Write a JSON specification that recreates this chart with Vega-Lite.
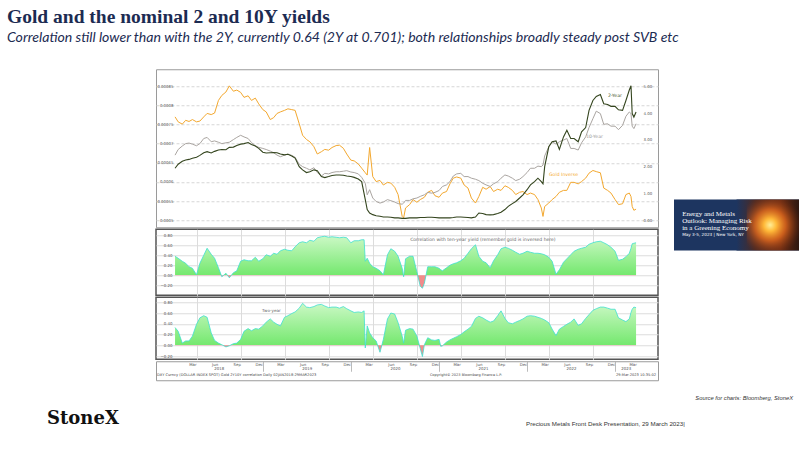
{
  "$schema": "https://vega.github.io/schema/vega-lite/v6.json",
  "padding": {"left": 0, "top": 7, "right": 0, "bottom": 0},
  "background": "white",
  "config": {
    "view": {"stroke": null},
    "mark": {"invalid": "filter"},
    "axis": {"labelFont": "DejaVu Sans", "labelFontSize": 3.9, "labelColor": "#555", "title": null, "labelOverlap": false},
    "text": {"font": "DejaVu Sans"}
  },
  "title": {
    "text": "Gold and the nominal 2 and 10Y yields",
    "subtitle": "Correlation still lower than with the 2Y, currently 0.64 (2Y at 0.701); both relationships broadly steady post SVB etc",
    "anchor": "start",
    "dx": 7,
    "font": "Liberation Serif",
    "fontSize": 19.5,
    "fontWeight": "bold",
    "color": "#1c2b52",
    "subtitleFont": "Lato",
    "subtitleFontStyle": "italic",
    "subtitleFontSize": 14.1,
    "subtitleColor": "#1c2b52",
    "subtitlePadding": 3,
    "offset": 23
  },
  "datasets": {
    "series": [
      {"d": "2018-01-02", "g": 0.000770, "y2": 1.94, "y10": 2.43, "c10": 0.38, "c2": 0.33},
      {"d": "2018-01-15", "g": 0.000757, "y2": 2.09, "y10": 2.64, "c10": 0.34, "c2": 0.26},
      {"d": "2018-02-01", "g": 0.000751, "y2": 2.20, "y10": 2.77, "c10": 0.28, "c2": 0.04},
      {"d": "2018-02-15", "g": 0.000761, "y2": 2.25, "y10": 2.86, "c10": 0.24, "c2": 0.08},
      {"d": "2018-03-01", "g": 0.000758, "y2": 2.27, "y10": 2.88, "c10": 0.17, "c2": 0.08},
      {"d": "2018-03-15", "g": 0.000763, "y2": 2.31, "y10": 2.84, "c10": 0.14, "c2": 0.17},
      {"d": "2018-04-01", "g": 0.000757, "y2": 2.35, "y10": 2.78, "c10": 0.01, "c2": 0.39},
      {"d": "2018-04-15", "g": 0.000759, "y2": 2.42, "y10": 2.86, "c10": 0.24, "c2": 0.51},
      {"d": "2018-05-01", "g": 0.000770, "y2": 2.52, "y10": 3.05, "c10": 0.40, "c2": 0.55},
      {"d": "2018-05-15", "g": 0.000779, "y2": 2.56, "y10": 3.09, "c10": 0.54, "c2": 0.52},
      {"d": "2018-06-01", "g": 0.000776, "y2": 2.51, "y10": 2.93, "c10": 0.42, "c2": 0.23},
      {"d": "2018-06-15", "g": 0.000780, "y2": 2.57, "y10": 2.96, "c10": 0.34, "c2": 0.09},
      {"d": "2018-07-01", "g": 0.000813, "y2": 2.62, "y10": 2.91, "c10": 0.15, "c2": 0.04},
      {"d": "2018-07-15", "g": 0.000826, "y2": 2.64, "y10": 2.86, "c10": -0.03, "c2": 0.01},
      {"d": "2018-08-01", "g": 0.000835, "y2": 2.63, "y10": 2.89, "c10": 0.04, "c2": -0.03},
      {"d": "2018-08-15", "g": 0.000851, "y2": 2.72, "y10": 2.91, "c10": -0.05, "c2": -0.01},
      {"d": "2018-09-01", "g": 0.000837, "y2": 2.73, "y10": 3.01, "c10": 0.05, "c2": 0.03},
      {"d": "2018-09-15", "g": 0.000840, "y2": 2.79, "y10": 3.09, "c10": 0.09, "c2": 0.04},
      {"d": "2018-10-01", "g": 0.000834, "y2": 2.84, "y10": 3.17, "c10": 0.28, "c2": 0.11},
      {"d": "2018-10-15", "g": 0.000821, "y2": 2.86, "y10": 3.11, "c10": 0.31, "c2": 0.26},
      {"d": "2018-11-01", "g": 0.000825, "y2": 2.90, "y10": 3.05, "c10": 0.29, "c2": 0.31},
      {"d": "2018-11-15", "g": 0.000813, "y2": 2.83, "y10": 2.90, "c10": 0.29, "c2": 0.27},
      {"d": "2018-12-01", "g": 0.000819, "y2": 2.77, "y10": 2.78, "c10": 0.36, "c2": 0.31},
      {"d": "2018-12-15", "g": 0.000804, "y2": 2.68, "y10": 2.72, "c10": 0.28, "c2": 0.30},
      {"d": "2019-01-01", "g": 0.000789, "y2": 2.54, "y10": 2.68, "c10": 0.33, "c2": 0.36},
      {"d": "2019-01-15", "g": 0.000783, "y2": 2.51, "y10": 2.64, "c10": 0.41, "c2": 0.43},
      {"d": "2019-02-01", "g": 0.000763, "y2": 2.52, "y10": 2.58, "c10": 0.38, "c2": 0.49},
      {"d": "2019-02-15", "g": 0.000768, "y2": 2.53, "y10": 2.52, "c10": 0.44, "c2": 0.43},
      {"d": "2019-03-01", "g": 0.000779, "y2": 2.52, "y10": 2.43, "c10": 0.42, "c2": 0.39},
      {"d": "2019-03-15", "g": 0.000783, "y2": 2.47, "y10": 2.37, "c10": 0.49, "c2": 0.36},
      {"d": "2019-04-01", "g": 0.000787, "y2": 2.44, "y10": 2.43, "c10": 0.52, "c2": 0.52},
      {"d": "2019-04-15", "g": 0.000791, "y2": 2.46, "y10": 2.47, "c10": 0.50, "c2": 0.55},
      {"d": "2019-05-01", "g": 0.000789, "y2": 2.40, "y10": 2.42, "c10": 0.49, "c2": 0.59},
      {"d": "2019-05-15", "g": 0.000787, "y2": 2.32, "y10": 2.35, "c10": 0.57, "c2": 0.62},
      {"d": "2019-06-01", "g": 0.000752, "y2": 2.00, "y10": 2.09, "c10": 0.65, "c2": 0.69},
      {"d": "2019-06-15", "g": 0.000722, "y2": 1.88, "y10": 2.00, "c10": 0.67, "c2": 0.78},
      {"d": "2019-07-01", "g": 0.000711, "y2": 1.78, "y10": 1.94, "c10": 0.65, "c2": 0.71},
      {"d": "2019-07-15", "g": 0.000705, "y2": 1.81, "y10": 1.88, "c10": 0.70, "c2": 0.70},
      {"d": "2019-08-01", "g": 0.000692, "y2": 1.88, "y10": 1.96, "c10": 0.68, "c2": 0.72},
      {"d": "2019-08-15", "g": 0.000673, "y2": 1.85, "y10": 1.78, "c10": 0.75, "c2": 0.75},
      {"d": "2019-09-01", "g": 0.000679, "y2": 1.63, "y10": 1.65, "c10": 0.77, "c2": 0.76},
      {"d": "2019-09-15", "g": 0.000685, "y2": 1.59, "y10": 1.75, "c10": 0.78, "c2": 0.73},
      {"d": "2019-10-01", "g": 0.000683, "y2": 1.63, "y10": 1.73, "c10": 0.76, "c2": 0.70},
      {"d": "2019-10-15", "g": 0.000690, "y2": 1.67, "y10": 1.78, "c10": 0.77, "c2": 0.71},
      {"d": "2019-11-01", "g": 0.000695, "y2": 1.69, "y10": 1.81, "c10": 0.76, "c2": 0.71},
      {"d": "2019-11-15", "g": 0.000696, "y2": 1.69, "y10": 1.81, "c10": 0.75, "c2": 0.69},
      {"d": "2019-12-01", "g": 0.000688, "y2": 1.68, "y10": 1.83, "c10": 0.76, "c2": 0.72},
      {"d": "2019-12-15", "g": 0.000673, "y2": 1.65, "y10": 1.85, "c10": 0.75, "c2": 0.68},
      {"d": "2020-01-01", "g": 0.000657, "y2": 1.63, "y10": 1.80, "c10": 0.65, "c2": 0.64},
      {"d": "2020-01-15", "g": 0.000655, "y2": 1.60, "y10": 1.78, "c10": 0.69, "c2": 0.61},
      {"d": "2020-02-01", "g": 0.000647, "y2": 1.54, "y10": 1.73, "c10": 0.69, "c2": 0.62},
      {"d": "2020-02-15", "g": 0.000636, "y2": 1.44, "y10": 1.60, "c10": 0.71, "c2": 0.61},
      {"d": "2020-02-25", "c10": 0.71, "c2": 0.64},
      {"d": "2020-03-01", "g": 0.000624, "y2": 0.77, "y10": 1.38, "c10": 0.28, "c2": -0.05},
      {"d": "2020-03-09", "g": 0.000618, "y2": 0.40, "y10": 0.95, "c10": 0.34, "c2": 0.36},
      {"d": "2020-03-19", "g": 0.000690, "y2": 0.27, "y10": 1.14, "c10": 0.24, "c2": 0.23},
      {"d": "2020-04-01", "g": 0.000614, "y2": 0.21, "y10": 0.83, "c10": 0.17, "c2": 0.14},
      {"d": "2020-04-15", "g": 0.000601, "y2": 0.17, "y10": 0.70, "c10": 0.14, "c2": 0.08},
      {"d": "2020-05-01", "g": 0.000604, "y2": 0.15, "y10": 0.64, "c10": 0.09, "c2": -0.13},
      {"d": "2020-05-15", "g": 0.000592, "y2": 0.12, "y10": 0.68, "c10": 0.01, "c2": 0.11},
      {"d": "2020-06-01", "g": 0.000599, "y2": 0.12, "y10": 0.77, "c10": 0.41, "c2": 0.49},
      {"d": "2020-06-15", "g": 0.000597, "y2": 0.11, "y10": 0.73, "c10": 0.53, "c2": 0.60},
      {"d": "2020-07-01", "g": 0.000586, "y2": 0.09, "y10": 0.68, "c10": 0.48, "c2": 0.58},
      {"d": "2020-07-15", "g": 0.000567, "y2": 0.09, "y10": 0.62, "c10": 0.38, "c2": 0.42},
      {"d": "2020-08-01", "g": 0.000510, "y2": 0.07, "y10": 0.60, "c10": 0.14, "c2": 0.17},
      {"d": "2020-08-07", "g": 0.000506, "y2": 0.07, "y10": 0.64, "c10": -0.03, "c2": 0.04},
      {"d": "2020-08-15", "g": 0.000532, "y2": 0.07, "y10": 0.74, "c10": 0.33, "c2": 0.28},
      {"d": "2020-09-01", "g": 0.000541, "y2": 0.09, "y10": 0.74, "c10": 0.38, "c2": 0.31},
      {"d": "2020-09-15", "g": 0.000554, "y2": 0.09, "y10": 0.80, "c10": 0.38, "c2": 0.30},
      {"d": "2020-10-01", "g": 0.000547, "y2": 0.09, "y10": 0.83, "c10": 0.07, "c2": 0.17},
      {"d": "2020-10-15", "g": 0.000554, "y2": 0.10, "y10": 0.89, "c10": -0.22, "c2": -0.06},
      {"d": "2020-10-24", "c10": -0.26, "c2": -0.21},
      {"d": "2020-11-01", "g": 0.000560, "y2": 0.10, "y10": 0.95, "c10": -0.16, "c2": 0.01},
      {"d": "2020-11-15", "g": 0.000573, "y2": 0.11, "y10": 1.04, "c10": 0.17, "c2": 0.14},
      {"d": "2020-12-01", "g": 0.000578, "y2": 0.11, "y10": 1.01, "c10": 0.17, "c2": 0.10},
      {"d": "2020-12-15", "g": 0.000564, "y2": 0.10, "y10": 1.04, "c10": 0.17, "c2": 0.09},
      {"d": "2021-01-01", "g": 0.000560, "y2": 0.09, "y10": 1.11, "c10": 0.14, "c2": 0.11},
      {"d": "2021-01-08", "c10": 0.11, "c2": -0.02},
      {"d": "2021-01-15", "g": 0.000571, "y2": 0.09, "y10": 1.26, "c10": 0.09, "c2": -0.01},
      {"d": "2021-02-01", "g": 0.000575, "y2": 0.09, "y10": 1.32, "c10": 0.15, "c2": 0.06},
      {"d": "2021-02-15", "g": 0.000595, "y2": 0.09, "y10": 1.44, "c10": 0.20, "c2": 0.10},
      {"d": "2021-03-01", "g": 0.000610, "y2": 0.10, "y10": 1.65, "c10": 0.23, "c2": 0.13},
      {"d": "2021-03-15", "g": 0.000613, "y2": 0.12, "y10": 1.73, "c10": 0.25, "c2": 0.16},
      {"d": "2021-04-01", "g": 0.000610, "y2": 0.12, "y10": 1.75, "c10": 0.29, "c2": 0.20},
      {"d": "2021-04-15", "g": 0.000592, "y2": 0.11, "y10": 1.63, "c10": 0.34, "c2": 0.25},
      {"d": "2021-05-01", "g": 0.000584, "y2": 0.10, "y10": 1.63, "c10": 0.44, "c2": 0.30},
      {"d": "2021-05-15", "g": 0.000558, "y2": 0.09, "y10": 1.57, "c10": 0.53, "c2": 0.35},
      {"d": "2021-06-01", "g": 0.000545, "y2": 0.12, "y10": 1.53, "c10": 0.61, "c2": 0.50},
      {"d": "2021-06-15", "g": 0.000562, "y2": 0.27, "y10": 1.48, "c10": 0.38, "c2": 0.54},
      {"d": "2021-07-01", "g": 0.000586, "y2": 0.25, "y10": 1.38, "c10": 0.28, "c2": 0.51},
      {"d": "2021-07-15", "g": 0.000581, "y2": 0.21, "y10": 1.32, "c10": 0.25, "c2": 0.47},
      {"d": "2021-08-01", "g": 0.000588, "y2": 0.20, "y10": 1.26, "c10": 0.15, "c2": 0.43},
      {"d": "2021-08-15", "g": 0.000575, "y2": 0.21, "y10": 1.36, "c10": 0.29, "c2": 0.45},
      {"d": "2021-09-01", "g": 0.000581, "y2": 0.25, "y10": 1.44, "c10": 0.41, "c2": 0.55},
      {"d": "2021-09-15", "g": 0.000578, "y2": 0.30, "y10": 1.57, "c10": 0.53, "c2": 0.64},
      {"d": "2021-10-01", "g": 0.000590, "y2": 0.40, "y10": 1.69, "c10": 0.56, "c2": 0.50},
      {"d": "2021-10-15", "g": 0.000586, "y2": 0.52, "y10": 1.65, "c10": 0.54, "c2": 0.42},
      {"d": "2021-11-01", "g": 0.000578, "y2": 0.62, "y10": 1.57, "c10": 0.50, "c2": 0.40},
      {"d": "2021-11-15", "g": 0.000567, "y2": 0.70, "y10": 1.48, "c10": 0.46, "c2": 0.43},
      {"d": "2021-12-01", "g": 0.000573, "y2": 0.83, "y10": 1.53, "c10": 0.42, "c2": 0.46},
      {"d": "2021-12-15", "g": 0.000575, "y2": 0.95, "y10": 1.63, "c10": 0.44, "c2": 0.49},
      {"d": "2022-01-01", "g": 0.000567, "y2": 1.14, "y10": 1.78, "c10": 0.48, "c2": 0.54},
      {"d": "2022-01-15", "g": 0.000571, "y2": 1.32, "y10": 1.94, "c10": 0.46, "c2": 0.55},
      {"d": "2022-02-01", "g": 0.000567, "y2": 1.44, "y10": 1.94, "c10": 0.44, "c2": 0.54},
      {"d": "2022-02-15", "g": 0.000554, "y2": 1.57, "y10": 2.02, "c10": 0.44, "c2": 0.52},
      {"d": "2022-03-01", "g": 0.000532, "y2": 1.44, "y10": 2.00, "c10": 0.43, "c2": 0.50},
      {"d": "2022-03-08", "g": 0.000510, "y2": 1.36, "y10": 2.06},
      {"d": "2022-03-15", "g": 0.000536, "y2": 2.00, "y10": 2.40, "c10": 0.41, "c2": 0.47},
      {"d": "2022-04-01", "g": 0.000545, "y2": 2.74, "y10": 2.74, "c10": 0.36, "c2": 0.42},
      {"d": "2022-04-15", "g": 0.000554, "y2": 2.93, "y10": 2.93, "c10": 0.28, "c2": 0.30},
      {"d": "2022-05-01", "g": 0.000562, "y2": 2.96, "y10": 2.84, "c10": 0.02, "c2": 0.18},
      {"d": "2022-05-15", "g": 0.000573, "y2": 2.64, "y10": 2.93, "c10": 0.11, "c2": 0.30},
      {"d": "2022-06-01", "g": 0.000578, "y2": 3.11, "y10": 2.99, "c10": 0.26, "c2": 0.35},
      {"d": "2022-06-15", "g": 0.000578, "y2": 3.36, "y10": 3.05, "c10": 0.33, "c2": 0.39},
      {"d": "2022-07-01", "g": 0.000599, "y2": 3.05, "y10": 2.68, "c10": 0.41, "c2": 0.43},
      {"d": "2022-07-15", "g": 0.000599, "y2": 3.05, "y10": 2.68, "c10": 0.48, "c2": 0.49},
      {"d": "2022-08-01", "g": 0.000595, "y2": 2.93, "y10": 2.62, "c10": 0.52, "c2": 0.37},
      {"d": "2022-08-15", "g": 0.000601, "y2": 3.30, "y10": 2.89, "c10": 0.54, "c2": 0.40},
      {"d": "2022-09-01", "g": 0.000610, "y2": 3.46, "y10": 3.11, "c10": 0.56, "c2": 0.50},
      {"d": "2022-09-15", "g": 0.000623, "y2": 4.10, "y10": 3.46, "c10": 0.62, "c2": 0.57},
      {"d": "2022-10-01", "g": 0.000630, "y2": 4.47, "y10": 3.79, "c10": 0.65, "c2": 0.65},
      {"d": "2022-10-15", "g": 0.000627, "y2": 4.62, "y10": 4.07, "c10": 0.67, "c2": 0.68},
      {"d": "2022-11-01", "g": 0.000624, "y2": 4.69, "y10": 3.98, "c10": 0.68, "c2": 0.71},
      {"d": "2022-11-15", "g": 0.000584, "y2": 4.35, "y10": 3.58, "c10": 0.65, "c2": 0.71},
      {"d": "2022-12-01", "g": 0.000578, "y2": 4.32, "y10": 3.60, "c10": 0.61, "c2": 0.69},
      {"d": "2022-12-15", "g": 0.000571, "y2": 4.25, "y10": 3.51, "c10": 0.56, "c2": 0.67},
      {"d": "2023-01-01", "g": 0.000554, "y2": 4.25, "y10": 3.51, "c10": 0.48, "c2": 0.67},
      {"d": "2023-01-15", "g": 0.000541, "y2": 4.12, "y10": 3.38, "c10": 0.30, "c2": 0.51},
      {"d": "2023-02-01", "g": 0.000543, "y2": 4.10, "y10": 3.54, "c10": 0.32, "c2": 0.47},
      {"d": "2023-02-15", "g": 0.000567, "y2": 4.47, "y10": 3.88, "c10": 0.37, "c2": 0.44},
      {"d": "2023-03-01", "g": 0.000571, "y2": 4.86, "y10": 4.04, "c10": 0.44, "c2": 0.49},
      {"d": "2023-03-08", "g": 0.000562, "y2": 5.02, "y10": 3.98, "c10": 0.54, "c2": 0.61},
      {"d": "2023-03-13", "g": 0.000536, "y2": 3.98, "y10": 3.51, "c10": 0.63, "c2": 0.67},
      {"d": "2023-03-20", "g": 0.000526, "y2": 3.85, "y10": 3.42, "c10": 0.64, "c2": 0.71},
      {"d": "2023-03-29", "g": 0.000529, "y2": 4.04, "y10": 3.60, "c10": 0.65, "c2": 0.70}
    ]
  },
  "spacing": 0,
  "vconcat": [
    {
      "spacing": 15,
      "center": true,
      "hconcat": [
        {
          "width": 140,
          "height": 10,
          "data": {"values": [{}]},
          "mark": {"type": "text", "text": ""}
        },
        {
          "spacing": 0,
          "vconcat": [
            {
              "width": 502,
              "height": 158,
              "view": {"stroke": "#9a9a9a", "strokeWidth": 1},
              "data": {"name": "series"},
              "layer": [
                {
                  "mark": {"type": "line", "color": "#f3a82f", "strokeWidth": 1},
                  "encoding": {
                    "x": {
                      "field": "d",
                      "type": "temporal",
                      "scale": {"domain": [{"year": 2017, "month": 10, "date": 15}, {"year": 2023, "month": 6, "date": 28}], "nice": false},
                      "axis": null
                    },
                    "y": {
                      "field": "g",
                      "type": "quantitative",
                      "scale": {"domain": [0.0004817, 0.0008944], "zero": false, "nice": false},
                      "axis": {
                        "orient": "left",
                        "offset": -19,
                        "values": [0.0005, 0.00055, 0.0006, 0.00065, 0.0007, 0.00075, 0.0008, 0.00085],
                        "format": "~g",
                        "grid": true,
                        "gridDash": [3, 2],
                        "gridColor": "#d6d6d6",
                        "domain": false,
                        "ticks": false,
                        "labelPadding": 2
                      }
                    }
                  }
                },
                {
                  "mark": {"type": "line", "color": "#aaa5a1", "strokeWidth": 1},
                  "encoding": {
                    "x": {"field": "d", "type": "temporal"},
                    "y": {
                      "field": "y10",
                      "type": "quantitative",
                      "scale": {"domain": [-0.261, 5.634], "zero": false, "nice": false},
                      "axis": {
                        "orient": "right",
                        "offset": -19,
                        "values": [0, 1, 2, 3, 4, 5],
                        "format": ".2f",
                        "grid": false,
                        "domain": false,
                        "ticks": false,
                        "labelPadding": 4
                      }
                    }
                  }
                },
                {
                  "mark": {"type": "line", "color": "#34451e", "strokeWidth": 1.1},
                  "encoding": {
                    "x": {"field": "d", "type": "temporal"},
                    "y": {"field": "y2", "type": "quantitative", "scale": {"domain": [-0.261, 5.634], "zero": false, "nice": false}, "axis": null}
                  }
                },
                {
                  "data": {"values": [{}]},
                  "mark": {"type": "text", "text": "2-Year", "align": "left", "baseline": "middle", "fontSize": 4.6, "color": "#4a5a30"},
                  "encoding": {
                    "x": {"datum": {"year": 2022, "month": 12, "date": 3}, "type": "temporal"},
                    "y": {"datum": 4.63, "type": "quantitative", "scale": {"domain": [-0.261, 5.634], "zero": false, "nice": false}, "axis": null}
                  }
                },
                {
                  "data": {"values": [{}]},
                  "mark": {"type": "text", "text": "10-Year", "align": "left", "baseline": "middle", "fontSize": 4.6, "color": "#999"},
                  "encoding": {
                    "x": {"datum": {"year": 2022, "month": 9, "date": 3}, "type": "temporal"},
                    "y": {"datum": 3.1, "type": "quantitative", "scale": {"domain": [-0.261, 5.634], "zero": false, "nice": false}, "axis": null}
                  }
                },
                {
                  "data": {"values": [{}]},
                  "mark": {"type": "text", "text": "Gold Inverse", "align": "left", "baseline": "middle", "fontSize": 4.6, "color": "#f3a82f"},
                  "encoding": {
                    "x": {"datum": {"year": 2022, "month": 4, "date": 2}, "type": "temporal"},
                    "y": {"datum": 1.67, "type": "quantitative", "scale": {"domain": [-0.261, 5.634], "zero": false, "nice": false}, "axis": null}
                  }
                }
              ],
              "resolve": {"scale": {"y": "independent"}}
            },
            {
              "width": 502,
              "height": 66,
              "view": {"stroke": "#555", "strokeWidth": 1.5},
              "data": {"name": "series"},
              "layer": [
                {
                  "mark": {
                    "type": "area",
                    "fill": {
                      "gradient": "linear", "x1": 0, "y1": 0, "x2": 0, "y2": 1,
                      "stops": [
                        {"offset": 0, "color": "#cbf8c5"},
                        {"offset": 0.75, "color": "#74e86e"},
                        {"offset": 0.75, "color": "#f28b8b"},
                        {"offset": 1, "color": "#f28b8b"}
                      ]
                    }
                  },
                  "encoding": {
                    "x": {
                      "field": "d",
                      "type": "temporal",
                      "scale": {"domain": [{"year": 2017, "month": 10, "date": 15}, {"year": 2023, "month": 6, "date": 28}], "nice": false},
                      "axis": {
                        "grid": true, "gridColor": "#dcdcdc", "labels": false, "ticks": false, "domain": false,
                        "values": [
                          {"year": 2018, "month": 4, "date": 1}, {"year": 2018, "month": 7, "date": 1}, {"year": 2018, "month": 10, "date": 1},
                          {"year": 2019, "month": 1, "date": 1}, {"year": 2019, "month": 4, "date": 1}, {"year": 2019, "month": 7, "date": 1}, {"year": 2019, "month": 10, "date": 1},
                          {"year": 2020, "month": 1, "date": 1}, {"year": 2020, "month": 4, "date": 1}, {"year": 2020, "month": 7, "date": 1}, {"year": 2020, "month": 10, "date": 1},
                          {"year": 2021, "month": 1, "date": 1}, {"year": 2021, "month": 4, "date": 1}, {"year": 2021, "month": 7, "date": 1}, {"year": 2021, "month": 10, "date": 1},
                          {"year": 2022, "month": 1, "date": 1}, {"year": 2022, "month": 4, "date": 1}, {"year": 2022, "month": 7, "date": 1}, {"year": 2022, "month": 10, "date": 1},
                          {"year": 2023, "month": 1, "date": 1}
                        ]
                      }
                    },
                    "y": {
                      "field": "c10",
                      "type": "quantitative",
                      "scale": {"domain": [-0.4, 0.92], "zero": false, "nice": false},
                      "axis": {
                        "orient": "left", "offset": -19,
                        "values": [-0.2, 0, 0.2, 0.4, 0.6, 0.8],
                        "format": ".2f", "grid": true, "gridColor": "#dcdcdc",
                        "domain": false, "ticks": false, "labelPadding": 3
                      }
                    },
                    "y2": {"datum": 0}
                  }
                },
                {
                  "mark": {"type": "line", "color": "#3fe0d0", "strokeWidth": 0.8},
                  "encoding": {
                    "x": {"field": "d", "type": "temporal"},
                    "y": {"field": "c10", "type": "quantitative", "scale": {"domain": [-0.4, 0.92], "zero": false, "nice": false}, "axis": null}
                  }
                },
                {
                  "data": {"values": [{}]},
                  "mark": {"type": "text", "text": "Correlation with ten-year yield (remember gold is inversed here)", "align": "left", "baseline": "middle", "fontSize": 4.5, "color": "#666"},
                  "encoding": {
                    "x": {"datum": {"year": 2020, "month": 9, "date": 3}, "type": "temporal"},
                    "y": {"datum": 0.7, "type": "quantitative", "scale": {"domain": [-0.4, 0.92], "zero": false, "nice": false}, "axis": null}
                  }
                }
              ],
              "resolve": {"scale": {"y": "independent"}}
            },
            {
              "width": 502,
              "height": 62,
              "view": {"stroke": "#555", "strokeWidth": 1.5},
              "data": {"name": "series"},
              "layer": [
                {
                  "mark": {
                    "type": "area",
                    "fill": {
                      "gradient": "linear", "x1": 0, "y1": 0, "x2": 0, "y2": 1,
                      "stops": [
                        {"offset": 0, "color": "#cbf8c5"},
                        {"offset": 0.788, "color": "#74e86e"},
                        {"offset": 0.788, "color": "#f28b8b"},
                        {"offset": 1, "color": "#f28b8b"}
                      ]
                    }
                  },
                  "encoding": {
                    "x": {
                      "field": "d",
                      "type": "temporal",
                      "scale": {"domain": [{"year": 2017, "month": 10, "date": 15}, {"year": 2023, "month": 6, "date": 28}], "nice": false},
                      "axis": {
                        "grid": true, "gridColor": "#dcdcdc", "labels": false, "ticks": false, "domain": false,
                        "values": [
                          {"year": 2018, "month": 4, "date": 1}, {"year": 2018, "month": 7, "date": 1}, {"year": 2018, "month": 10, "date": 1},
                          {"year": 2019, "month": 1, "date": 1}, {"year": 2019, "month": 4, "date": 1}, {"year": 2019, "month": 7, "date": 1}, {"year": 2019, "month": 10, "date": 1},
                          {"year": 2020, "month": 1, "date": 1}, {"year": 2020, "month": 4, "date": 1}, {"year": 2020, "month": 7, "date": 1}, {"year": 2020, "month": 10, "date": 1},
                          {"year": 2021, "month": 1, "date": 1}, {"year": 2021, "month": 4, "date": 1}, {"year": 2021, "month": 7, "date": 1}, {"year": 2021, "month": 10, "date": 1},
                          {"year": 2022, "month": 1, "date": 1}, {"year": 2022, "month": 4, "date": 1}, {"year": 2022, "month": 7, "date": 1}, {"year": 2022, "month": 10, "date": 1},
                          {"year": 2023, "month": 1, "date": 1}
                        ]
                      }
                    },
                    "y": {
                      "field": "c2",
                      "type": "quantitative",
                      "scale": {"domain": [-0.26, 0.893], "zero": false, "nice": false},
                      "axis": {
                        "orient": "left", "offset": -19,
                        "values": [-0.2, 0, 0.2, 0.4, 0.6, 0.8],
                        "format": ".2f", "grid": true, "gridColor": "#dcdcdc",
                        "domain": false, "ticks": false, "labelPadding": 3
                      }
                    },
                    "y2": {"datum": 0}
                  }
                },
                {
                  "mark": {"type": "line", "color": "#3fe0d0", "strokeWidth": 0.8},
                  "encoding": {
                    "x": {"field": "d", "type": "temporal"},
                    "y": {"field": "c2", "type": "quantitative", "scale": {"domain": [-0.26, 0.893], "zero": false, "nice": false}, "axis": null}
                  }
                },
                {
                  "data": {"values": [{}]},
                  "mark": {"type": "text", "text": "Two-year", "align": "left", "baseline": "middle", "fontSize": 4.2, "color": "#666"},
                  "encoding": {
                    "x": {"datum": {"year": 2018, "month": 12, "date": 29}, "type": "temporal"},
                    "y": {"datum": 0.63, "type": "quantitative", "scale": {"domain": [-0.26, 0.893], "zero": false, "nice": false}, "axis": null}
                  }
                }
              ],
              "resolve": {"scale": {"y": "independent"}}
            },
            {
              "width": 502,
              "height": 19,
              "view": {"stroke": "#9a9a9a", "strokeWidth": 1},
              "data": {"values": [{}]},
              "layer": [
                {
                  "mark": {"type": "text", "text": "DXY Curncy (DOLLAR INDEX SPOT) Gold 2Y10Y correlation  Daily 02JAN2018-29MAR2023", "align": "left", "baseline": "middle", "fontSize": 3.6, "color": "#444"},
                  "encoding": {
                    "x": {
                      "datum": {"year": 2017, "month": 10, "date": 19},
                      "type": "temporal",
                      "scale": {"domain": [{"year": 2017, "month": 10, "date": 15}, {"year": 2023, "month": 6, "date": 28}], "nice": false},
                      "axis": {
                        "orient": "bottom", "offset": -19, "domain": false, "ticks": false, "grid": false,
                        "labelPadding": 1, "labelFlush": false, "labelBaseline": "top",
                        "labelExpr": "timeFormat(datum.value, '%b')",
                        "values": [
                          {"year": 2018, "month": 3, "date": 15}, {"year": 2018, "month": 6, "date": 15}, {"year": 2018, "month": 9, "date": 15}, {"year": 2018, "month": 12, "date": 15},
                          {"year": 2019, "month": 3, "date": 15}, {"year": 2019, "month": 6, "date": 15}, {"year": 2019, "month": 9, "date": 15}, {"year": 2019, "month": 12, "date": 15},
                          {"year": 2020, "month": 3, "date": 15}, {"year": 2020, "month": 6, "date": 15}, {"year": 2020, "month": 9, "date": 15}, {"year": 2020, "month": 12, "date": 15},
                          {"year": 2021, "month": 3, "date": 15}, {"year": 2021, "month": 6, "date": 15}, {"year": 2021, "month": 9, "date": 15}, {"year": 2021, "month": 12, "date": 15},
                          {"year": 2022, "month": 3, "date": 15}, {"year": 2022, "month": 6, "date": 15}, {"year": 2022, "month": 9, "date": 15}, {"year": 2022, "month": 12, "date": 15},
                          {"year": 2023, "month": 3, "date": 15}
                        ]
                      }
                    },
                    "y": {"datum": 0.29, "type": "quantitative", "scale": {"domain": [0, 1]}, "axis": null}
                  }
                },
                {
                  "mark": {"type": "text", "text": "Copyright© 2023 Bloomberg Finance L.P.", "align": "left", "baseline": "middle", "fontSize": 3.5, "color": "#444"},
                  "encoding": {
                    "x": {
                      "datum": {"year": 2020, "month": 11, "date": 24},
                      "type": "temporal",
                      "axis": {
                        "orient": "bottom", "offset": -19, "domain": false, "labels": false, "grid": false,
                        "ticks": true, "tickSize": 10, "tickColor": "#aaa", "tickWidth": 0.8,
                        "values": [
                          {"year": 2019, "month": 1, "date": 1}, {"year": 2020, "month": 1, "date": 1},
                          {"year": 2021, "month": 1, "date": 1}, {"year": 2022, "month": 1, "date": 1},
                          {"year": 2023, "month": 1, "date": 1}
                        ]
                      }
                    },
                    "y": {"datum": 0.29, "type": "quantitative"}
                  }
                },
                {
                  "mark": {"type": "text", "text": "29-Mar-2023 10:35:02", "align": "right", "baseline": "middle", "fontSize": 3.6, "color": "#444"},
                  "encoding": {
                    "x": {
                      "datum": {"year": 2023, "month": 6, "date": 20},
                      "type": "temporal",
                      "axis": {
                        "orient": "bottom", "offset": -19, "domain": false, "ticks": false, "grid": false,
                        "labelPadding": 5.5, "labelFlush": false, "labelBaseline": "top",
                        "labelExpr": "timeFormat(datum.value, '%Y')",
                        "values": [
                          {"year": 2018, "month": 7, "date": 2}, {"year": 2019, "month": 7, "date": 2},
                          {"year": 2020, "month": 7, "date": 2}, {"year": 2021, "month": 7, "date": 2},
                          {"year": 2022, "month": 7, "date": 2}, {"year": 2023, "month": 2, "date": 14}
                        ]
                      }
                    },
                    "y": {"datum": 0.29, "type": "quantitative"}
                  }
                }
              ],
              "resolve": {"axis": {"x": "independent"}}
            }
          ]
        },
        {
          "width": 125,
          "height": 51,
          "view": {"fill": "#1d3560", "stroke": null},
          "data": {"values": [{}]},
          "layer": [
            {
              "mark": {
                "type": "rect",
                "fill": {
                  "gradient": "linear", "x1": 0, "y1": 0, "x2": 1, "y2": 0,
                  "stops": [
                    {"offset": 0, "color": "#1d3560"},
                    {"offset": 0.3, "color": "#4a2a24"},
                    {"offset": 0.7, "color": "#6a2c14"},
                    {"offset": 1, "color": "#2e1810"}
                  ]
                }
              },
              "encoding": {
                "x": {"datum": 0.5, "type": "quantitative", "scale": {"domain": [0, 1]}, "axis": null},
                "x2": {"datum": 1},
                "y": {"datum": 0, "type": "quantitative", "scale": {"domain": [0, 1]}, "axis": null},
                "y2": {"datum": 1}
              }
            },
            {
              "mark": {
                "type": "rect",
                "fill": {
                  "gradient": "radial", "x1": 0.45, "y1": 0.5, "r1": 0, "x2": 0.45, "y2": 0.5, "r2": 0.6,
                  "stops": [
                    {"offset": 0, "color": "#ffef9a"},
                    {"offset": 0.2, "color": "#ffb938"},
                    {"offset": 0.5, "color": "rgba(236,110,30,0.75)"},
                    {"offset": 1, "color": "rgba(120,40,15,0)"}
                  ]
                }
              },
              "encoding": {
                "x": {"datum": 0.58, "type": "quantitative"},
                "x2": {"datum": 1},
                "y": {"datum": 0, "type": "quantitative"},
                "y2": {"datum": 1}
              }
            },
            {
              "mark": {"type": "text", "text": ["Energy and Metals", "Outlook: Managing Risk", "in a Greening Economy"], "align": "left", "baseline": "top", "font": "Liberation Serif", "fontSize": 7, "lineHeight": 7.4, "color": "white"},
              "encoding": {
                "x": {"datum": 0.065, "type": "quantitative"},
                "y": {"datum": 0.8, "type": "quantitative"}
              }
            },
            {
              "mark": {"type": "text", "text": "May 3-5, 2023 | New York, NY", "align": "left", "baseline": "middle", "fontSize": 4.2, "color": "white"},
              "encoding": {
                "x": {"datum": 0.065, "type": "quantitative"},
                "y": {"datum": 0.3, "type": "quantitative"}
              }
            }
          ]
        }
      ]
    },
    {
      "width": 797,
      "height": 55,
      "data": {"values": [{}]},
      "layer": [
        {
          "mark": {"type": "text", "text": "Source for charts: Bloomberg, StoneX", "align": "right", "baseline": "middle", "font": "Liberation Sans", "fontStyle": "italic", "fontSize": 5.8, "color": "#333"},
          "encoding": {
            "x": {"datum": 99.5, "type": "quantitative", "scale": {"domain": [0, 100]}, "axis": null},
            "y": {"datum": 0.69, "type": "quantitative", "scale": {"domain": [0, 1]}, "axis": null}
          }
        },
        {
          "mark": {"type": "text", "text": "StoneX", "align": "left", "baseline": "middle", "font": "DejaVu Serif", "fontSize": 18, "fontWeight": "bold", "color": "#111"},
          "encoding": {
            "x": {"datum": 5.9, "type": "quantitative"},
            "y": {"datum": 0.31, "type": "quantitative"}
          }
        },
        {
          "mark": {"type": "text", "text": "Precious Metals Front Desk Presentation, 29 March 2023|", "align": "left", "baseline": "middle", "font": "Liberation Sans", "fontSize": 6.2, "color": "#333"},
          "encoding": {
            "x": {"datum": 66, "type": "quantitative"},
            "y": {"datum": 0.22, "type": "quantitative"}
          }
        }
      ]
    }
  ]
}
